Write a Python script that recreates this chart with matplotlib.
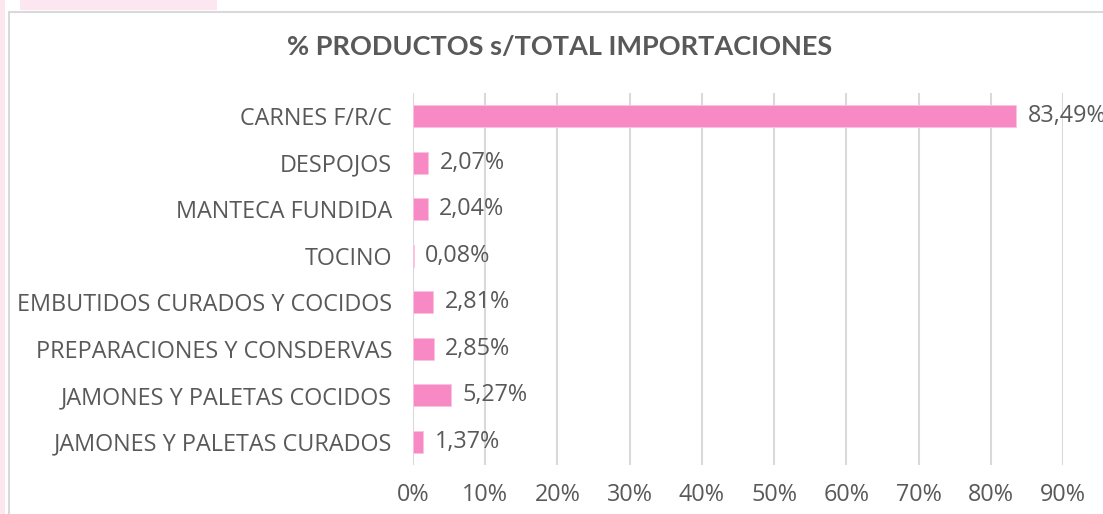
import matplotlib.pyplot as plt
import matplotlib.ticker as ticker
from matplotlib.patches import Rectangle

# data
categorias = ['CARNES F/R/C', 'DESPOJOS', 'MANTECA FUNDIDA', 'TOCINO',
              'EMBUTIDOS CURADOS Y COCIDOS', 'PREPARACIONES Y CONSDERVAS',
              'JAMONES Y PALETAS COCIDOS', 'JAMONES Y PALETAS CURADOS']
porcentajes = [83.49, 2.07, 2.04, 0.08, 2.81, 2.85, 5.27, 1.37]
etiquetas = ['83,49%', '2,07%', '2,04%', '0,08%', '2,81%', '2,85%', '5,27%', '1,37%']
ticks_x = [0, 10, 20, 30, 40, 50, 60, 70, 80, 90]

gris = '#595959'
rosa = '#F78AC4'
plt.rcParams['font.family'] = ['Open Sans', 'DejaVu Sans']

fig = plt.figure(figsize=(11.03, 5.14), dpi=100)
W, H = 1103, 514

# decoracion de fondo y marco del grafico
fig.patches.append(Rectangle((20 / W, 1 - 10 / H), 197 / W, 10 / H, transform=fig.transFigure,
                             facecolor='#FCE6EF', edgecolor='none', zorder=0))
fig.patches.append(Rectangle((0, 0), 5 / W, 1, transform=fig.transFigure,
                             facecolor='#FCE6EF', edgecolor='none', zorder=0))
fig.patches.append(Rectangle((9 / W, -0.1), 1.2, 1.1 - 12 / H, transform=fig.transFigure,
                             facecolor='white', edgecolor='#D9D9D9', linewidth=1.5, zorder=1))

ax = fig.add_axes([413 / W, 1 - 465 / H, 650 / W, 372 / H])
ax.set_facecolor('none')
ax.set_zorder(2)

y = range(len(categorias))
ax.barh(y, porcentajes, height=0.47, color=rosa, edgecolor='#FBC3E0', linewidth=0.6, zorder=3)
for i, (v, t) in enumerate(zip(porcentajes, etiquetas)):
    ax.text(v + 1.6, i, t, va='center', ha='left', fontsize=16.8, color=gris, zorder=4)

ax.set_ylim(len(categorias) - 0.5, -0.5)
ax.set_xlim(0, 90)
ax.set_yticks(list(y))
ax.set_yticklabels(categorias)
ax.set_xticks(ticks_x)
ax.xaxis.set_major_formatter(ticker.FuncFormatter(lambda v, p: '%d%%' % v))
ax.tick_params(axis='both', length=0, labelsize=16.8, labelcolor=gris)
ax.tick_params(axis='y', pad=15)
ax.tick_params(axis='x', pad=13)
ax.grid(axis='x', color='#D9D9D9', linewidth=1.5, zorder=0)
ax.set_axisbelow(True)
for s in ax.spines.values():
    s.set_visible(False)

fig.text(560 / W, 1 - 47 / H, '% PRODUCTOS s/TOTAL IMPORTACIONES', ha='center', va='center',
         fontsize=19.5, fontweight='bold', color=gris, family=['Lato', 'DejaVu Sans'], zorder=5)

plt.savefig('out.png', dpi=100)
